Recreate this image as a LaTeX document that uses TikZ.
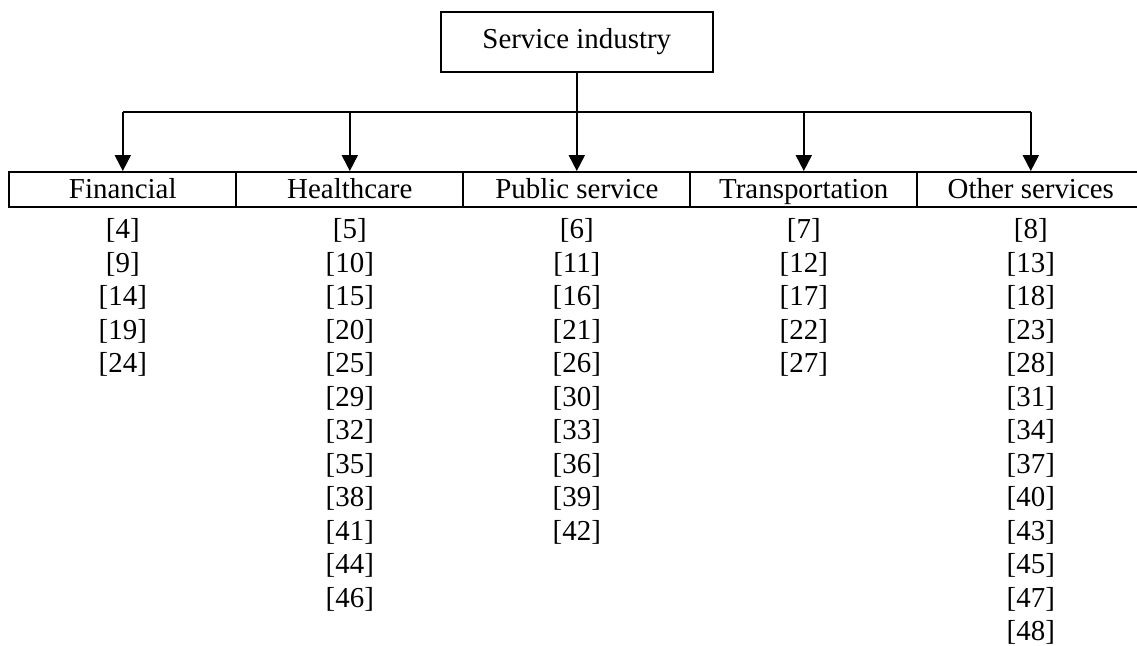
\documentclass[tikz,border=0pt]{standalone}
\usepackage{fontspec}
\setmainfont{Liberation Serif}
\usetikzlibrary{arrows.meta,positioning}
\tikzset{every node/.append style={font=\fontsize{12pt}{13.8pt}\selectfont}}
\tikzset{hd/.append style={draw,line width=0.83pt,minimum width=112.9pt,minimum height=24.9pt,inner sep=0pt}}
\tikzset{cat/.append style={draw,line width=0.83pt,minimum width=94.2pt,minimum height=14.5pt,inner sep=0pt,text height=0.85em,text depth=0.1em}}
\tikzset{ref/.append style={inner sep=0pt}}
\tikzset{arr/.append style={line width=0.83pt,-{Triangle[length=6.6pt,width=6.6pt]}}}

\begin{document}
\begin{tikzpicture}[x=0.415pt,y=-0.415pt]
                \useasboundingbox (0,0) rectangle (1137,646);
                % \SetUpVertex
                \node[hd] (top) at (576.8,41.7) {Service industry};
                \node[cat] (fin) at (122.8,189.5) {Financial};
                \node[cat] (hea) at (349.8,189.5) {Healthcare};
                \node[cat] (pub) at (576.8,189.5) {Public service};
                \node[cat] (tra) at (803.8,189.5) {Transportation};
                \node[cat] (oth) at (1030.8,189.5) {Other services};
                \coordinate (bus) at (0,112);
                \draw[line width=0.83pt] (fin |- bus) -- (oth |- bus);
                \draw[arr] (top) -- (pub);
                \foreach \c in {fin,hea,tra,oth} \draw[arr] (\c |- bus) -- (\c);
                % references
                \foreach \n [count=\i from 0] in {4,9,14,19,24}
                    \node[ref] (fin\i) at (122.8,230.5+33.5*\i) {[\n]};
                \foreach \n [count=\i from 0] in {5,10,15,20,25,29,32,35,38,41,44,46}
                    \node[ref] (hea\i) at (349.8,230.5+33.5*\i) {[\n]};
                \foreach \n [count=\i from 0] in {6,11,16,21,26,30,33,36,39,42}
                    \node[ref] (pub\i) at (576.8,230.5+33.5*\i) {[\n]};
                \foreach \n [count=\i from 0] in {7,12,17,22,27}
                    \node[ref] (tra\i) at (803.8,230.5+33.5*\i) {[\n]};
                \foreach \n [count=\i from 0] in {8,13,18,23,28,31,34,37,40,43,45,47,48}
                    \node[ref] (oth\i) at (1030.8,230.5+33.5*\i) {[\n]};
            \end{tikzpicture}
\end{document}
